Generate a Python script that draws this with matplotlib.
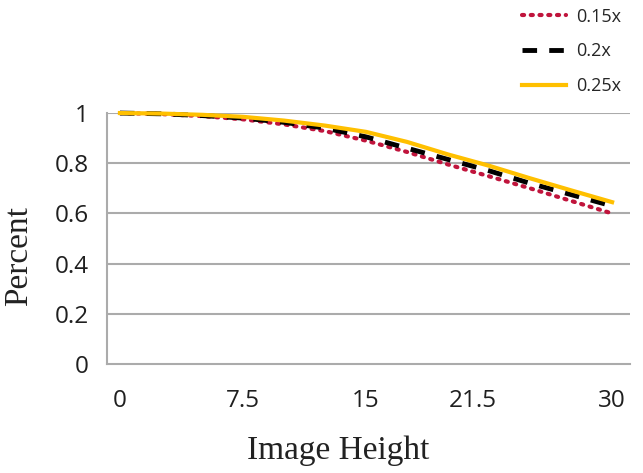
import matplotlib
matplotlib.use("Agg")
import matplotlib.pyplot as plt

# datos
image_height = [0, 2.5, 5, 7.5, 10, 12.5, 15, 17.5, 20, 22.5, 25, 27.5, 30]
pct_015 = [1.0, 0.996, 0.988, 0.975, 0.955, 0.928, 0.89, 0.845, 0.795, 0.748, 0.70, 0.65, 0.60]
pct_020 = [1.0, 0.997, 0.990, 0.980, 0.963, 0.940, 0.905, 0.86, 0.815, 0.77, 0.72, 0.675, 0.63]
pct_025 = [1.0, 0.998, 0.993, 0.985, 0.970, 0.950, 0.925, 0.885, 0.835, 0.79, 0.74, 0.692, 0.645]

x_ticks = [0, 7.5, 15, 21.5, 30]
x_labels = ["0", "7.5", "15", "21.5", "30"]
y_ticks = [0, 0.2, 0.4, 0.6, 0.8, 1]
y_labels = ["0", "0.2", "0.4", "0.6", "0.8", "1"]

fig = plt.figure(figsize=(6.43, 4.73), dpi=100)
ax = fig.add_axes([0.1664, 0.2304, 0.8136, 0.5306])

ax.plot(image_height, pct_015, color="#C0143C", linestyle=(0, (0.5, 1.6)),
        linewidth=3, dash_capstyle="round", label="0.15x", clip_on=False, zorder=3)
ax.plot(image_height, pct_020, color="black", linestyle=(0, (3, 2.5)),
        linewidth=3.5, label="0.2x", clip_on=False, zorder=4)
ax.plot(image_height, pct_025, color="#FFC000", linewidth=3,
        label="0.25x", clip_on=False, zorder=5)

ax.set_xlim(-0.79, 31.1)
ax.set_ylim(0, 1)

# grilla horizontal gris como en excel
for y in y_ticks[1:]:
    ax.axhline(y, color="#ABABAB", linewidth=1.5, zorder=1)

for s in ["top", "right"]:
    ax.spines[s].set_visible(False)
for s in ["left", "bottom"]:
    ax.spines[s].set_color("#ABABAB")
    ax.spines[s].set_linewidth(1.5)

ax.set_xticks(x_ticks)
ax.set_xticklabels(x_labels, fontfamily="Open Sans", fontsize=17.5, color="#1F1F1F")
ax.set_yticks(y_ticks)
ax.set_yticklabels(y_labels, fontfamily="Open Sans", fontsize=17.5, color="#1F1F1F")
ax.tick_params(axis="both", length=0)
ax.tick_params(axis="x", pad=18)
ax.tick_params(axis="y", pad=13)

fig.text(0.526, 0.048, "Image Height", fontfamily="Liberation Serif", fontsize=24,
         ha="center", va="center", color="#222222")
fig.text(0.03, 0.459, "Percent", fontfamily="Liberation Serif", fontsize=24,
         ha="center", va="center", rotation=90, color="#222222")

fig.legend(loc="upper left", bbox_to_anchor=(0.786, 1.018), frameon=False,
           prop={"family": "Open Sans", "size": 13}, handlelength=2.45,
           labelspacing=0.92, handletextpad=0.55, labelcolor="#262626")

fig.savefig("out.png", dpi=100)
